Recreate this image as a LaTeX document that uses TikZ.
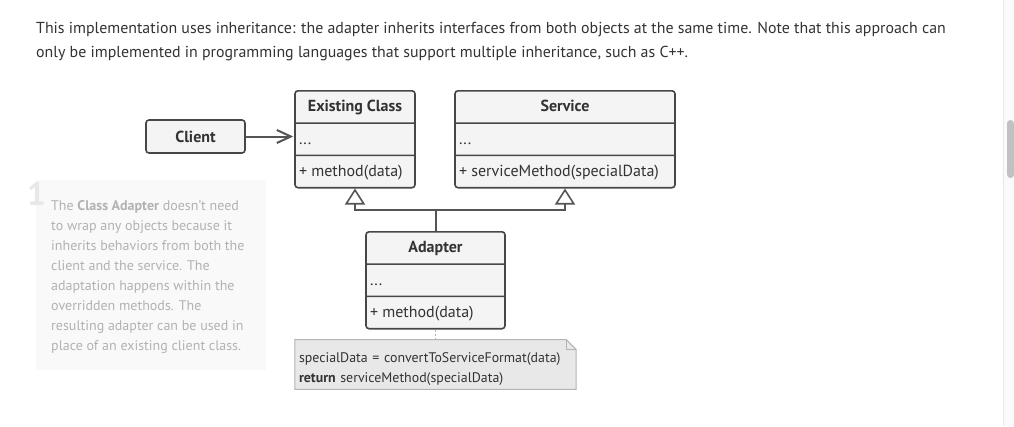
\documentclass[tikz,border=0pt]{standalone}
\usepackage{fontspec}
\setmainfont{PT Sans}
\usepackage{tikz}
\usetikzlibrary{shapes.multipart, positioning, arrows.meta, backgrounds}
\definecolor{RGText}{HTML}{333333}
\definecolor{RGLine}{HTML}{474747}
\definecolor{RGFill}{HTML}{F4F4F4}
\definecolor{RGArrow}{HTML}{555555}
\definecolor{RGNoteFill}{HTML}{E8E8E8}
\definecolor{RGNoteLine}{HTML}{B4B4B4}
\definecolor{RGPanel}{HTML}{F9F9F9}
\definecolor{RGPanelText}{HTML}{B2B2B2}
\definecolor{RGNum}{HTML}{E8E8E8}
\definecolor{RGTrack}{HTML}{FAFAFA}
\definecolor{RGThumb}{HTML}{C1C1C1}
\newcommand{\rowstrut}{\rule[-10.5pt]{0pt}{30.7pt}}

\begin{document}
\begin{tikzpicture}[x=1pt, y=-1pt,
          classbox/.style={rectangle split, rectangle split parts=3,
                       draw=RGLine, fill=RGFill, line width=1.6pt,
                       rounded corners=3pt, inner xsep=4pt, inner ysep=0pt,
                       rectangle split part align={center,left,left},
                       font=\fontsize{16}{18}\selectfont, text=RGText},
          plainbox/.style={rectangle, draw=RGLine, fill=RGFill, line width=1.6pt,
                       rounded corners=3pt, minimum width=99pt, minimum height=33pt,
                       font=\fontsize{16}{18}\selectfont\bfseries, text=RGText},
          notebox/.style={rectangle, minimum width=281pt, minimum height=49pt,
                       text width=273pt, align=left, inner sep=4pt,
                       font=\fontsize{13.9}{20}\selectfont, text=RGText},
          uses/.style={-{Straight Barb[length=14pt, width=13pt]}, line width=2pt, RGArrow},
          inherits/.style={-{Triangle[open, length=16pt, width=20pt, line width=1.6pt]},
                       line width=2pt, RGArrow},
          link/.style={line width=2pt, RGArrow}
        ]
        \begin{scope}[on background layer]
          \fill[white] (0,0) rectangle (1014,426);
        \end{scope}
        \useasboundingbox (0,0) rectangle (1014,426);

        % Intro text
        \node[anchor=base west, inner sep=0pt, align=left, text=RGText,
              font=\fontsize{15.9}{24}\selectfont] (intro) at (36,57)
              {This implementation uses inheritance: the adapter inherits interfaces from both objects at the same time. Note that this approach can\\
               only be implemented in programming languages that support multiple inheritance, such as C++.};

        % Side note
        \fill[RGPanel] (36,180) rectangle (266,370);
        \node[anchor=base west, inner sep=0pt, text=RGNum,
              font=\fontsize{33}{33}\selectfont\bfseries] (num) at (27,205) {1};
        \node[anchor=base west, inner sep=0pt, align=left, text=RGPanelText,
              font=\fontsize{14}{20}\selectfont] (explain) at (51,350)
              {The \textbf{Class Adapter} doesn't need\\
               to wrap any objects because it\\
               inherits behaviors from both the\\
               client and the service. The\\
               adaptation happens within the\\
               overridden methods. The\\
               resulting adapter can be used in\\
               place of an existing client class.};

        % Classes
        \node[plainbox] (client) at (195.5,136.5) {Client};
        \node[classbox, minimum width=120pt, anchor=north] (exist) at (355,90)
              {\rowstrut\textbf{Existing Class}
               \nodepart{two}\rowstrut...
               \nodepart{three}\rowstrut+ method(data)};
        \node[classbox, minimum width=220pt, anchor=north] (service) at (565,90)
              {\rowstrut\textbf{Service}
               \nodepart{two}\rowstrut...
               \nodepart{three}\rowstrut+ serviceMethod(specialData)};
        \node[classbox, minimum width=139pt, anchor=north] (adapter) at (435.5,231)
              {\rowstrut\textbf{Adapter}
               \nodepart{two}\rowstrut...
               \nodepart{three}\rowstrut+ method(data)};

        \draw[uses, shorten >=1pt] (client.east) -- (client.east -| exist.west);

        % Inheritance
        \coordinate (fork) at (435.5,210);
        \draw[link] (adapter.north) -- (fork);
        \draw[inherits] (fork) -| (exist.south);
        \draw[inherits] (fork) -| (service.south);

        % Note
        \node[notebox] (note) at (435.5,364.5)
              {\rule{0pt}{18.5pt}specialData = convertToServiceFormat(data)\\
               \textbf{return} serviceMethod(specialData)};
        \begin{scope}[on background layer]
          \draw[RGNoteLine, fill=RGNoteFill, line width=1pt]
                (note.north west) -- ([xshift=-10pt]note.north east)
                -- ([yshift=-10pt]note.north east) -- (note.south east)
                -- (note.south west) -- cycle;
        \end{scope}
        \draw[RGNoteLine, line width=1pt]
              ([xshift=-10pt]note.north east) -- ([xshift=-10pt,yshift=-10pt]note.north east)
              -- ([yshift=-10pt]note.north east);
        \draw[RGNoteLine, line width=1.5pt, dash pattern=on 2pt off 2pt]
              (adapter.south) -- (note.north);

        % Scroll bar
        \fill[RGTrack] (1003,0) rectangle (1014,426);
        \draw[RGNum, line width=1pt] (1003,0) -- (1003,426);
        \fill[RGThumb, rounded corners=3.5pt] (1007,120) rectangle (1014,178);
      \end{tikzpicture}
\end{document}
